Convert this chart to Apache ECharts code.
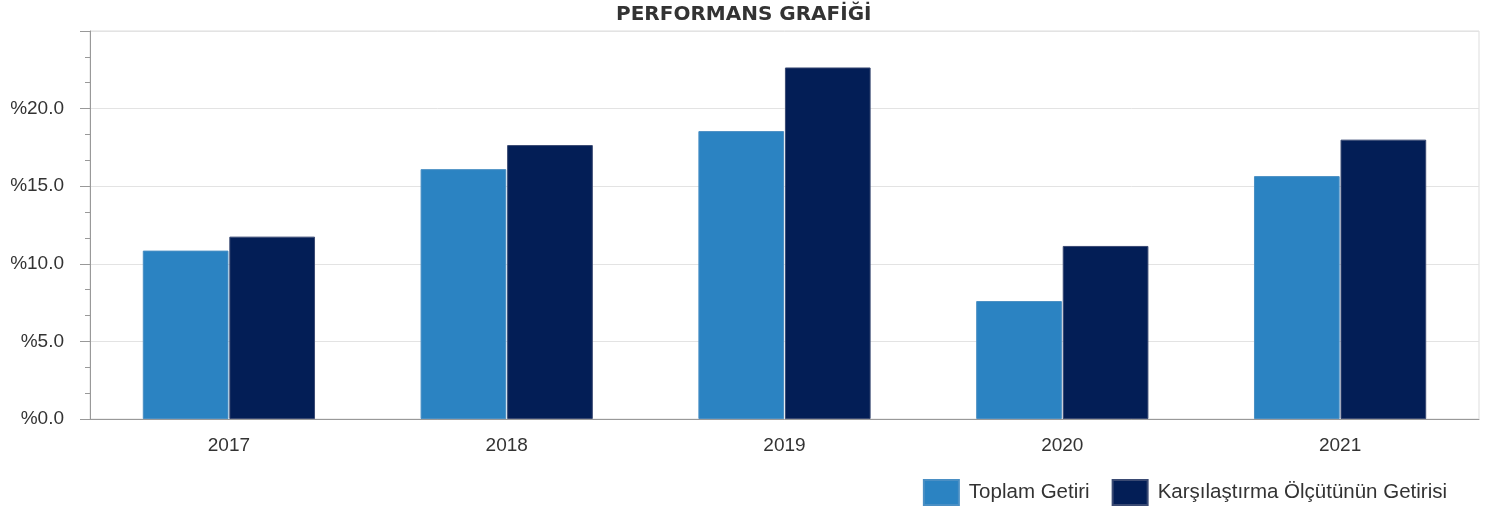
<!DOCTYPE html>
<html><head><meta charset="utf-8">
<script src="https://cdn.jsdelivr.net/npm/echarts@6/dist/echarts.min.js"></script>
<style>html,body{margin:0;padding:0;background:#fff}#c{width:1494px;height:511px}</style>
</head><body><div id="c"></div>
<script>
const categories = ['2017','2018','2019','2020','2021'];
const toplamGetiri = [10.85, 16.1, 18.55, 7.6, 15.65];
const karsilastirma = [11.75, 17.65, 22.65, 11.15, 18.0];
const seriesNames = ['Toplam Getiri','Karşılaştırma Ölçütünün Getirisi'];
const titleText = 'PERFORMANS GRAFİĞİ';
const font = 'Liberation Sans';
const chart = echarts.init(document.getElementById('c'));
chart.setOption({
  animation:false,
  textStyle:{fontFamily:font},
  title:{text:titleText,left:611,top:0,textStyle:{fontFamily:'DejaVu Sans',fontSize:20,fontWeight:'bold',color:'#333'}},
  grid:{left:90,right:15,top:31,bottom:92,show:true,borderColor:'#ddd',borderWidth:1},
  legend:{right:42,top:474,itemWidth:35,itemHeight:25,itemGap:22,icon:'rect',
    textStyle:{fontFamily:font,fontSize:20.5,color:'#333',padding:[0,0,0,5]},data:seriesNames},
  xAxis:{type:'category',data:categories,
    axisLine:{lineStyle:{color:'#999'}},
    axisTick:{alignWithLabel:true,length:6,lineStyle:{color:'#aaa'}},
    axisLabel:{fontFamily:font,fontSize:19,color:'#333',margin:17}},
  yAxis:{type:'value',min:0,max:25,interval:5,
    axisLine:{show:true,lineStyle:{color:'#999'}},
    axisTick:{show:true,length:10,lineStyle:{color:'#999'}},
    minorTick:{show:true,splitNumber:3,length:5,lineStyle:{color:'#999'}},
    splitLine:{lineStyle:{color:'#e3e3e3'}},
    axisLabel:{fontFamily:font,fontSize:19,color:'#333',margin:26,
      formatter:function(v){return v>=25?'':'%'+v.toFixed(1);}}},
  series:[
    {name:seriesNames[0],type:'bar',data:toplamGetiri,barGap:'1%',barCategoryGap:'38%',
      itemStyle:{color:'#2b83c2',borderColor:'#4a8fc4',borderWidth:1}},
    {name:seriesNames[1],type:'bar',data:karsilastirma,
      itemStyle:{color:'#031e56',borderColor:'#3a4a73',borderWidth:1}}
  ]
});
</script></body></html>
